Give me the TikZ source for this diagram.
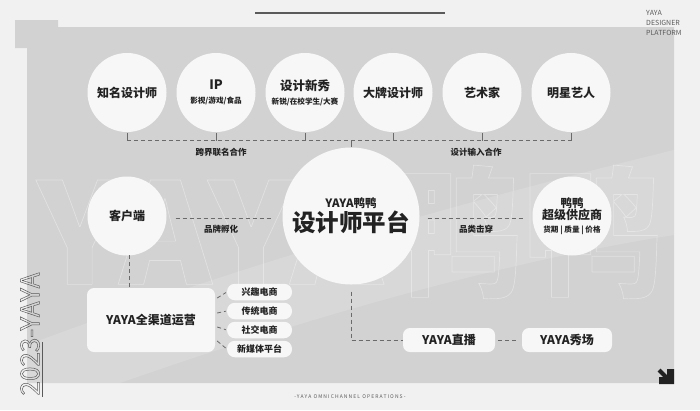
\documentclass[tikz,border=0pt]{standalone}
\usepackage{fontspec}
\setmainfont{Noto Sans CJK SC}
\usetikzlibrary{calc}
\definecolor{bgc}{HTML}{F1F1F1}
\definecolor{panelc}{HTML}{D2D2D2}
\definecolor{circc}{HTML}{F7F7F7}
\definecolor{txtc}{HTML}{222222}
\definecolor{dashc}{HTML}{6A6A6A}
\definecolor{softc}{HTML}{5A5A5A}
\newcommand{\outlinetxt}[2]{\special{pdf:literal 1 Tr #1 w}#2\special{pdf:literal 0 Tr}}
\newcommand{\subfnt}{\fontsize{7.6}{9}\selectfont\bfseries}
\tikzset{
  bubble/.style={circle, fill=circc, minimum size=79pt, inner sep=0pt, text=txtc, align=center, font=\fontsize{12}{14}\selectfont\bfseries},
  bigbubble/.style={circle, fill=circc, minimum size=137pt, inner sep=0pt, text=txtc, align=center},
  pill/.style={rounded corners=8pt, fill=circc, minimum width=65pt, minimum height=16.5pt, inner sep=0pt, text=txtc, font=\fontsize{9}{10}\selectfont\bfseries},
  wbox/.style={rounded corners=7pt, fill=circc, inner sep=0pt, text=txtc, font=\fontsize{12}{14}\selectfont\bfseries},
  dashline/.style={draw=dashc, line width=0.8pt, dash pattern=on 4pt off 3pt},
  lbl/.style={text=txtc, font=\fontsize{8.5}{10}\selectfont\bfseries, inner sep=0pt}
}
\begin{document}
\begin{tikzpicture}[x=1pt,y=-1pt]
\useasboundingbox (0,0) rectangle (700,410);
\fill[bgc] (0,0) rectangle (700,410);
% panel
\fill[panelc] (15,20) -- (58,20) -- (58,27) -- (674,27) -- (674,383) -- (27,383) -- (27,48) -- (15,48) -- cycle;
% light swoosh
\fill[white,opacity=0.14] (27,345) .. controls (250,262) and (450,205) .. (674,150) -- (674,235) .. controls (500,262) and (300,320) .. (120,383) -- (27,383) -- cycle;
% watermark
\node[text=white, opacity=0.35, inner sep=0pt, font=\fontsize{140}{140}\selectfont\bfseries] (wm) at (350,232) {\outlinetxt{0.7}{YAYA鸭鸭}};
% top line
\draw[softc, line width=1.3pt] (255,13) -- (445,13);
% top right text
\node[anchor=north west, text=softc, align=left, inner sep=0pt, font=\fontsize{7}{10}\selectfont] (brand) at (646,10) {YAYA\\DESIGNER\\PLATFORM};
% 2023-YAYA vertical
\node[rotate=90, text=softc, inner sep=0pt, font=\fontsize{26}{26}\selectfont] (yr) at (30,334) {\outlinetxt{0.5}{2023-YAYA}};
\draw[softc, line width=0.6pt] (42,342) -- (42,397);
% top circles
\node[bubble] (c1) at (127,92.5) {知名设计师};
\node[bubble] (c2) at (216,92.5) {\fontsize{13}{14}\selectfont IP\\[0pt]{\subfnt 影视/游戏/食品}};
\node[bubble] (c3) at (305,92.5) {\fontsize{12.5}{14}\selectfont 设计新秀\\[0pt]{\subfnt 新锐/在校学生/大赛}};
\node[bubble] (c4) at (393,92.5) {大牌设计师};
\node[bubble] (c5) at (482,92.5) {艺术家};
\node[bubble] (c6) at (571,92.5) {明星艺人};
% center
\node[bigbubble] (ctr) at (351,216) {{\fontsize{11.5}{13}\selectfont\bfseries YAYA鸭鸭}\\[1pt]{\fontsize{23.5}{26}\selectfont\bfseries 设计师平台}};
\node[bubble] (kh) at (127,216) {客户端};
\node[bubble] (sup) at (572,216) {{\fontsize{11.5}{13}\selectfont 鸭鸭}\\[-2pt]超级供应商\\[-1pt]{\subfnt 货期 | 质量 | 价格}};
% boxes
\node[wbox, minimum width=128pt, minimum height=64pt] (qd) at (151,320) {YAYA全渠道运营};
\node[pill] (p1) at (259.5,292) {兴趣电商};
\node[pill] (p2) at (259.5,311) {传统电商};
\node[pill] (p3) at (259.5,330) {社交电商};
\node[pill] (p4) at (259.5,349) {新媒体平台};
\node[wbox, minimum width=92pt, minimum height=24pt] (live) at (449,340) {YAYA直播};
\node[wbox, minimum width=90pt, minimum height=24pt] (show) at (567,340) {YAYA秀场};
% dashed network top
\coordinate (lineL) at (127,140.5);
\coordinate (lineR) at (571,140.5);
\draw[dashline] (lineL) -- (lineR);
\foreach \c in {c1,c2,c3,c4,c5,c6} {
  \draw[draw=dashc, line width=0.8pt, shorten <=1pt] (\c.south) -- (\c.south |- lineL);
}
\draw[draw=dashc, line width=0.8pt] (ctr.north |- lineL) -- (ctr.north);
\node[lbl] (t1) at (221,152) {跨界联名合作};
\node[lbl] (t2) at (476,152) {设计输入合作};
% middle
\draw[dashline, shorten <=9pt, shorten >=10pt] ($(kh.east)+(0,2)$) -- ($(ctr.west)+(0,2)$);
\draw[dashline, shorten <=8pt, shorten >=9pt] ($(ctr.east)+(0,2)$) -- ($(sup.west)+(0,2)$);
\node[lbl] (t3) at (221,229) {品牌孵化};
\node[lbl] (t4) at (476,229) {品类击穿};
% lower
\coordinate (khb) at (129,255);
\draw[dashline] (khb) -- (khb |- qd.north);
\draw[dashline, shorten >=1pt] ($(qd.east)+(2,-22)$) -- (p1.west);
\draw[dashline, shorten >=1pt] ($(qd.east)+(2,-7)$) -- (p2.west);
\draw[dashline, shorten >=1pt] ($(qd.east)+(2,7)$) -- (p3.west);
\draw[dashline, shorten >=1pt] ($(qd.east)+(2,21)$) -- (p4.west);
\draw[dashline, shorten <=7pt] (ctr.south) |- (live.west);
\draw[dashline, shorten <=3pt, shorten >=3pt] (live.east) -- (show.west);
% bottom text
\node[text=softc, inner sep=0pt, font=\fontsize{5}{6}\selectfont\addfontfeatures{LetterSpace=22}] (bt) at (350,397) {-YAYA OMNICHANNEL OPERATIONS-};
% arrow icon
\fill[txtc] (667,369) -- (674,369) -- (674,384) -- (659,384) -- (659,377) -- (667,377) -- cycle;
\draw[txtc, line width=4pt] (659,370) -- (670,381);
\end{tikzpicture}
\end{document}
